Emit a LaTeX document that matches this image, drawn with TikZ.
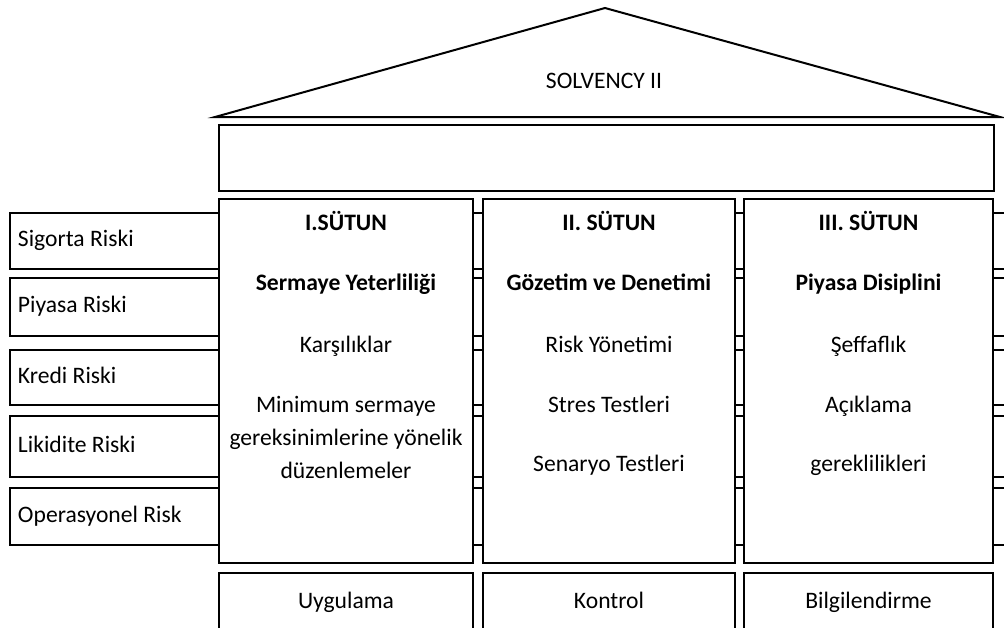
\documentclass[tikz,border=0pt]{standalone}
\usepackage{fontspec}
\setmainfont{Carlito}
\begin{document}
\begin{tikzpicture}[x=0.5pt,y=-0.5pt,
  every node/.style={font=\fontsize{11.8pt}{13.5pt}\selectfont},
  frame/.style={draw, line width=1pt, fill=white, inner sep=0pt},
  riskbox/.style={draw, line width=1pt, fill=white, inner ysep=0pt, inner xsep=4pt,
    text width=497pt, align=flush left, minimum width=505pt, text height=1.5ex, text depth=.3ex},
  colbox/.style={frame, minimum height=182pt},
  basebox/.style={frame, minimum height=30pt, text height=1.5ex, text depth=.3ex},
  coltext/.style={inner sep=0pt, align=center, text height=1.5ex, text depth=.3ex},
  boldtext/.style={coltext, font=\fontsize{11.8pt}{13.5pt}\selectfont\bfseries}]
\useasboundingbox (0,0) rectangle (1004,627);
\clip (0,0) rectangle (1004,627);
% risk boxes (behind the columns)
\node[riskbox, minimum height=28pt]   (r1) at (515,241)   {Sigorta Riski};
\node[riskbox, minimum height=29pt]   (r2) at (515,307)   {Piyasa Riski};
\node[riskbox, minimum height=27.5pt] (r3) at (515,377.5) {Kredi Riski};
\node[riskbox, minimum height=30.5pt] (r4) at (515,446.5) {Likidite Riski};
\node[riskbox, minimum height=28.5pt] (r5) at (515,516.5) {Operasyonel Risk};
% roof
\coordinate (roofL) at (215,117);
\coordinate (roofR) at (1000,117);
\coordinate (apex) at (605,8);
\draw[line width=1pt, line join=miter] (roofL) -- (apex) -- (roofR) -- cycle;
\node[coltext] (title) at (604,83) {SOLVENCY II};
% banner
\node[frame, minimum width=387.5pt, minimum height=33pt] (banner) at (606.5,158) {};
% columns
\node[colbox, minimum width=127pt]   (c1) at (346,381)   {};
\node[colbox, minimum width=126pt]   (c2) at (609,381)   {};
\node[colbox, minimum width=124.5pt] (c3) at (868.5,381) {};
% column 1 texts
\node[boldtext] (c1a) at (346,225) {I.SÜTUN};
\node[boldtext] (c1b) at (346,285) {Sermaye Yeterliliği};
\node[coltext]  (c1c) at (346,347) {Karşılıklar};
\node[coltext]  (c1d) at (346,407) {Minimum sermaye};
\node[coltext]  (c1e) at (346,440) {gereksinimlerine yönelik};
\node[coltext]  (c1f) at (346,473) {düzenlemeler};
% column 2 texts
\node[boldtext] (c2a) at (609,225) {II. SÜTUN};
\node[boldtext] (c2b) at (609,285) {Gözetim ve Denetimi};
\node[coltext]  (c2c) at (609,347) {Risk Yönetimi};
\node[coltext]  (c2d) at (609,407) {Stres Testleri};
\node[coltext]  (c2e) at (609,466) {Senaryo Testleri};
% column 3 texts
\node[boldtext] (c3a) at (868.5,225) {III. SÜTUN};
\node[boldtext] (c3b) at (868.5,285) {Piyasa Disiplini};
\node[coltext]  (c3c) at (868.5,347) {Şeffaflık};
\node[coltext]  (c3d) at (868.5,407) {Açıklama};
\node[coltext]  (c3e) at (868.5,466) {gereklilikleri};
% base boxes
\node[basebox, minimum width=127pt]   (b1) at (346,603)   {Uygulama};
\node[basebox, minimum width=126pt]   (b2) at (609,603)   {Kontrol};
\node[basebox, minimum width=124.5pt] (b3) at (868.5,603) {Bilgilendirme};
\end{tikzpicture}
\end{document}
